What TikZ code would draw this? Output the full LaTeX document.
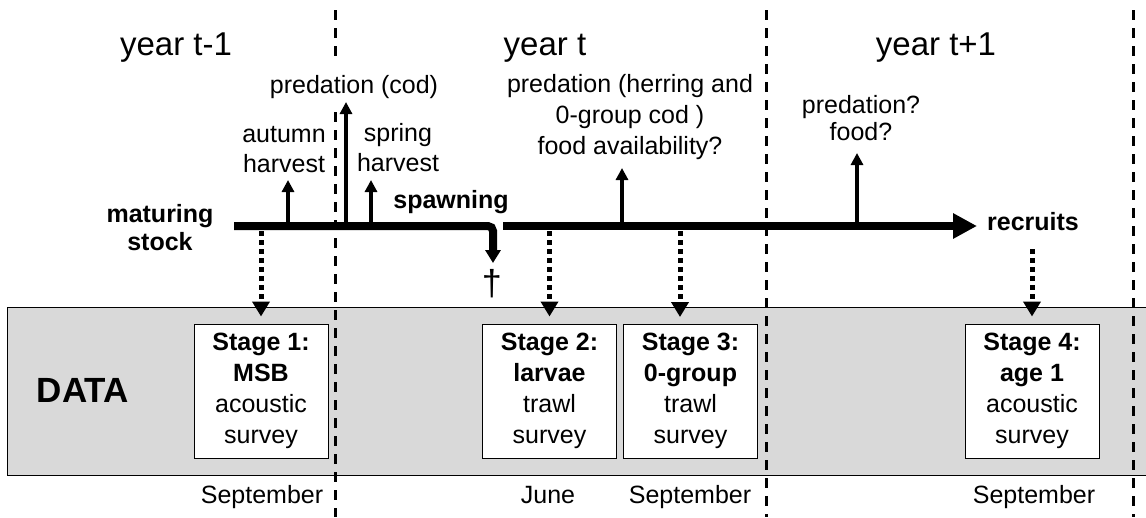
\documentclass[tikz,border=0pt]{standalone}
\usepackage{fontspec}
\setmainfont{Liberation Sans}
\usetikzlibrary{arrows.meta}
\definecolor{bandgray}{RGB}{217,217,217}
\begin{document}
\begin{tikzpicture}[x=1pt,y=-1pt,
  lbl/.style={font=\fontsize{25}{30}\selectfont, inner sep=0pt, align=center, anchor=base},
  blbl/.style={font=\fontsize{25}{28}\selectfont\bfseries, inner sep=0pt, align=center, anchor=base},
  yearlbl/.style={font=\fontsize{33}{40}\selectfont, inner sep=0pt, anchor=base},
  yeardiv/.style={line width=3pt, dash pattern=on 10pt off 8pt},
  timeline/.style={line width=8pt},
  uparr/.style={line width=3.5pt, -{Triangle[length=12pt,width=12pt]}},
  dotarr/.style={line width=5pt, dash pattern=on 5pt off 4pt, -{Triangle[length=15pt,width=17pt]}},
  stagebox/.style={draw, line width=1pt, fill=white, minimum width=134pt, minimum height=134pt, inner sep=0pt, align=center, font=\fontsize{25}{31}\selectfont},
  databand/.style={draw, line width=1pt, fill=bandgray, minimum width=1170pt, minimum height=168pt, inner sep=0pt, anchor=north west},
]
\useasboundingbox (0,0) rectangle (1146,517);

% data band
\node[databand] (band) at (7,307) {};

% year dividers
\coordinate (v1top) at (335,10);
\coordinate (v1a) at (335,62);
\coordinate (v1b) at (335,112);
\coordinate (v1bot) at (335,517);
\coordinate (v2top) at (766,10);
\coordinate (v2bot) at (766,517);
\coordinate (v3top) at (1133,10);
\coordinate (v3bot) at (1133,517);
\draw[yeardiv] (v1top) -- (v1a);
\draw[yeardiv] (v1b) -- (v1bot);
\draw[yeardiv] (v2top) -- (v2bot);
\draw[yeardiv] (v3top) -- (v3bot);

% stage boxes
\node[stagebox] (s1) at (261,391) {\textbf{Stage 1:}\\\textbf{MSB}\\acoustic\\survey};
\node[stagebox] (s2) at (549.5,391) {\textbf{Stage 2:}\\\textbf{larvae}\\trawl\\survey};
\node[stagebox] (s3) at (690.5,391) {\textbf{Stage 3:}\\\textbf{0-group}\\trawl\\survey};
\node[stagebox] (s4) at (1032,391) {\textbf{Stage 4:}\\\textbf{age 1}\\acoustic\\survey};

% timeline
\coordinate (tl0) at (234,226);
\coordinate (spw) at (493,226);
\coordinate (spwend) at (493,263);
\coordinate (tl1) at (503,226);
\coordinate (tlend) at (977,226);
\draw[timeline, rounded corners=5pt, -{Triangle[length=13pt,width=15pt]}] (tl0) -- (spw) -- (spwend);
\draw[timeline, -{Triangle[length=24pt,width=24pt]}] (tl1) -- (tlend);

% up arrows (influences)
\coordinate (a1b) at (288,223); \coordinate (a1t) at (288,180);
\coordinate (a2b) at (346,223); \coordinate (a2t) at (346,102);
\coordinate (a3b) at (371,223); \coordinate (a3t) at (371,180);
\coordinate (a4b) at (622,223); \coordinate (a4t) at (622,168);
\coordinate (a5b) at (857,223); \coordinate (a5t) at (857,153);
\draw[uparr] (a1b) -- (a1t);
\draw[uparr, line width=4pt] (a2b) -- (a2t);
\draw[uparr] (a3b) -- (a3t);
\draw[uparr] (a4b) -- (a4t);
\draw[uparr] (a5b) -- (a5t);

% dotted data arrows
\coordinate (d1) at (261,231);
\coordinate (d2) at (549.5,231);
\coordinate (d3) at (680,231);
\coordinate (d3e) at (680,317);
\coordinate (d4) at (1032,249);
\draw[dotarr] (d1) -- ([yshift=7pt]s1.north);
\draw[dotarr] (d2) -- ([yshift=7pt]s2.north);
\draw[dotarr] (d3) -- (d3e);
\draw[dotarr] (d4) -- ([yshift=7pt]s4.north);

% labels (base anchor = baseline of the last line)
\node[yearlbl] (y1) at (176,55) {year t-1};
\node[yearlbl] (y2) at (545,55) {year t};
\node[yearlbl] (y3) at (936,55) {year t+1};

\node[lbl] (pcod) at (354,93) {predation (cod)};
\node[lbl] (aut) at (284,172) {autumn\\harvest};
\node[lbl] (spr) at (398,171) {spring\\harvest};
\node[lbl, font=\fontsize{25}{31}\selectfont] (pher) at (630,154) {predation (herring and\\0-group cod )\\food availability?};
\node[lbl, font=\fontsize{25}{27}\selectfont] (pq) at (861,140) {predation?\\food?};

\node[blbl] (mat) at (160,250) {maturing\\stock};
\node[blbl] (spawn) at (451,208) {spawning};
\node[blbl] (rec) at (1033,230) {recruits};
\node[font=\fontsize{35}{40}\selectfont\bfseries, inner sep=0pt, anchor=base] (data) at (83,402) {DATA};
\node[font=\fontsize{36}{42}\selectfont, inner sep=0pt] (dag) at (492,284) {†};

\node[lbl] (m1) at (262,503) {September};
\node[lbl] (m2) at (548,503) {June};
\node[lbl] (m3) at (690,503) {September};
\node[lbl] (m4) at (1034,503) {September};
\end{tikzpicture}
\end{document}
